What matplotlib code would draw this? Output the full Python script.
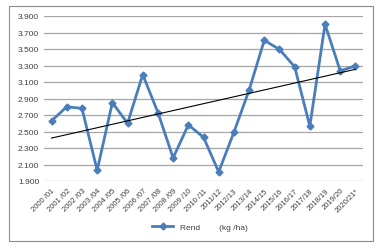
import numpy as np
import matplotlib.pyplot as plt
from matplotlib.patches import Rectangle

seasons = ['2000 /01', '2001 /02', '2002 /03', '2003 /04', '2004 /05', '2005 /06',
           '2006 /07', '2007 /08', '2008 /09', '2009 /10', '2010 /11', '2011/12',
           '2012/13', '2013/14', '2014/15', '2015/16', '2016/17', '2017/18',
           '2018/19', '2019/20', '2020/21*']
rend = [2630, 2800, 2780, 2030, 2850, 2600, 3190, 2730, 2180, 2580, 2430, 2010,
        2490, 3000, 3605, 3495, 3285, 2565, 3800, 3235, 3295]
yticks = np.arange(1900, 3901, 200)

blue = '#4a7ebb'
plt.rcParams['font.family'] = ['Liberation Sans', 'DejaVu Sans']

fig = plt.figure(figsize=(3.86, 2.53), dpi=100)
fig.patches.append(Rectangle((9 / 386, 1 - 242 / 253), 364 / 386, 235 / 253,
                             transform=fig.transFigure, fill=False,
                             edgecolor='#8c8c8c', linewidth=0.8))
ax = fig.add_axes([44 / 386, 1 - 182 / 253, 319 / 386, 165 / 253])

x = np.arange(len(seasons))
ax.plot(x, rend, color=blue, linewidth=2, marker='D', markersize=3.5,
        label='Rend        (kg /ha)')

# linear trend
k, b = np.polyfit(x, rend, 1)
ax.plot(x, k * x + b, color='black', linewidth=0.8)

ax.set_xlim(-0.5, len(seasons) - 0.5)
ax.set_ylim(1900, 3900)
ax.set_yticks(yticks)
ax.set_yticklabels([f'{v // 1000}.{v % 1000:03d}' for v in yticks])
ax.set_xticks(x)
ax.set_xticklabels(seasons, rotation=45, ha='right', rotation_mode='anchor')
ax.tick_params(length=0, labelsize=6, colors='#404040')
ax.tick_params(axis='x', labelsize=5.5, pad=4)
ax.grid(axis='y', color='#a6a6a6', linewidth=0.9)
ax.set_axisbelow(True)
for s in ax.spines.values():
    s.set_visible(False)

fig.legend(loc='center', bbox_to_anchor=(200 / 386, 1 - 228 / 253), frameon=False,
           fontsize=6, handlelength=2.5, labelcolor='#404040')

fig.savefig('out.png', dpi=100)
